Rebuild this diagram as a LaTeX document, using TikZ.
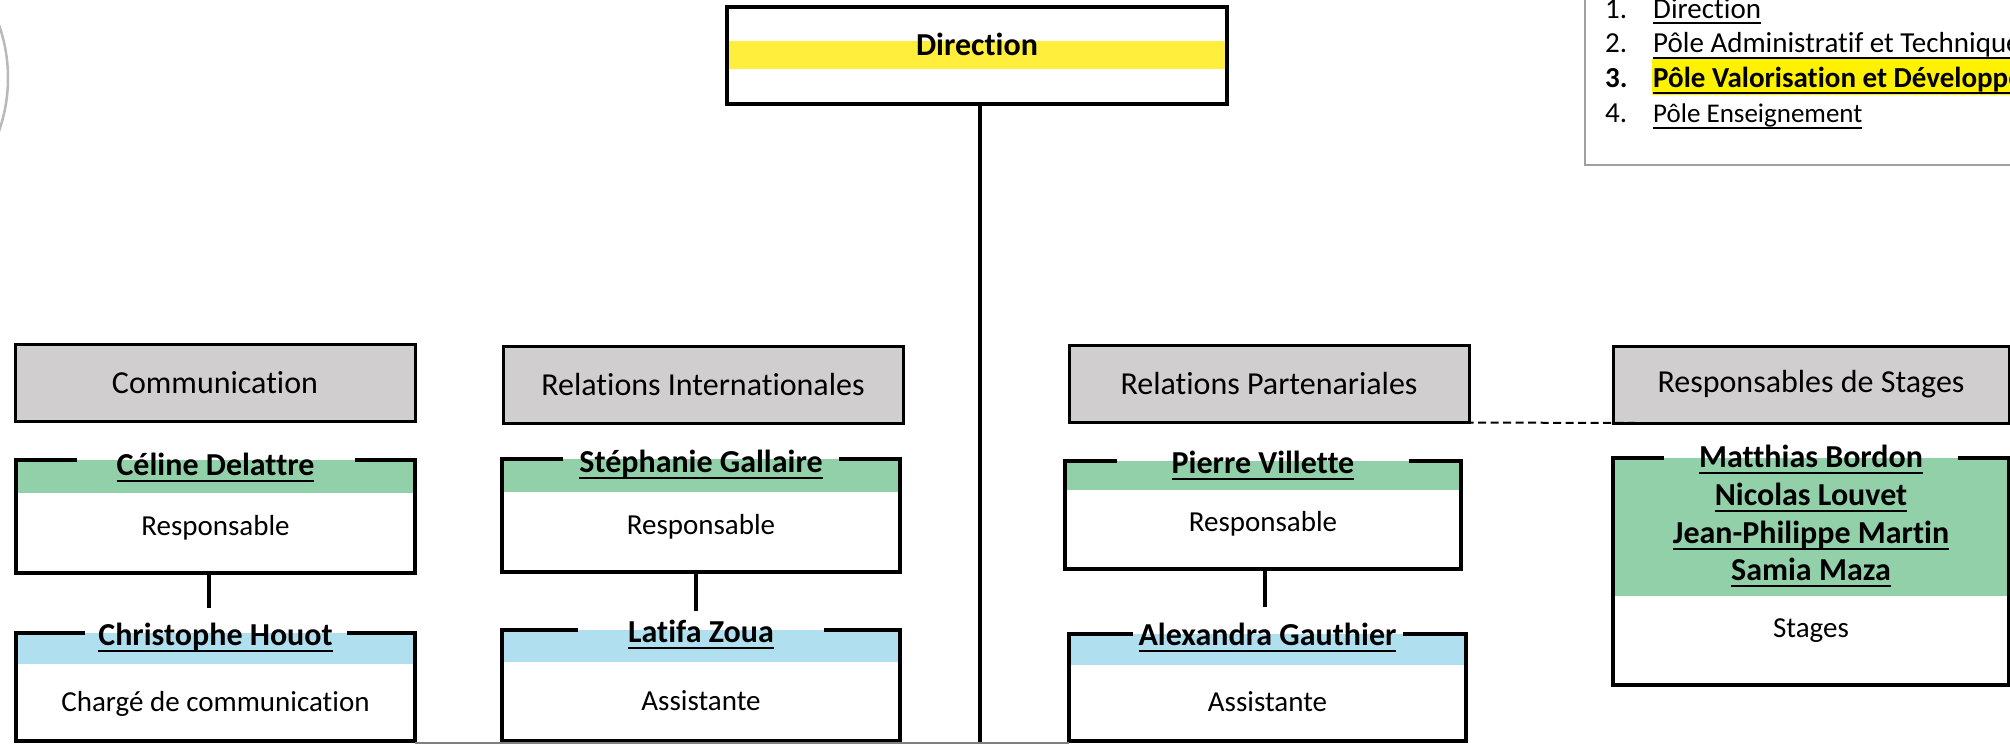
\documentclass[tikz,border=0pt]{standalone}
\usepackage{fontspec}
\setmainfont{Carlito}[Ligatures=NoCommon]
\usetikzlibrary{positioning}

\definecolor{headgray}{RGB}{208,206,206}
\definecolor{leadgreen}{RGB}{146,208,170}
\definecolor{staffblue}{RGB}{176,223,239}
\definecolor{dirband}{RGB}{255,238,60}
\definecolor{legendgray}{RGB}{160,160,160}
\definecolor{circlegray}{RGB}{185,185,185}

% underlined text, rule under the baseline
\newsavebox{\undlbox}
\newcommand{\undl}[1]{\sbox{\undlbox}{#1}\rlap{\rule[-6.5pt]{\wd\undlbox}{2pt}}\usebox{\undlbox}}

\tikzset{
  dirbox/.style={draw=black, line width=4pt, fill=white, minimum width=500pt, minimum height=97pt,
    inner sep=0pt, outer sep=0pt, text height=22pt, text depth=22pt, font=\bfseries\fontsize{32}{38}\selectfont,
    path picture={\fill[dirband] ([yshift=-34pt]path picture bounding box.north west)
      rectangle ([yshift=-62pt]path picture bounding box.north east);}},
  headbox/.style={draw=black, line width=3pt, fill=headgray, minimum width=400pt, minimum height=77pt,
    inner sep=0pt, outer sep=0pt, font=\fontsize{32}{38}\selectfont},
  band/.style={fill=#1, inner sep=0pt, outer sep=0pt, anchor=north},
  rolebox/.style={fill=white, inner sep=0pt, outer sep=0pt, text height=19pt, text depth=15pt,
    font=\fontsize{29}{35}\selectfont},
  lowrole/.style={text depth=2pt},
  namelabel/.style={inner sep=0pt, font=\bfseries\fontsize{32}{37.7}\selectfont},
  frameline/.style={line width=4pt},
  link/.style={line width=4pt},
  dashlink/.style={line width=2pt, dash pattern=on 8pt off 4.5pt},
  bottomline/.style={line width=1.2pt, draw=gray},
  legendnum/.style={anchor=base west, inner sep=0pt, font=\fontsize{29}{35}\selectfont},
  legendtext/.style={anchor=base west, inner sep=0pt, font=\fontsize{29}{35}\selectfont}
}

% frame of a person box, open at the top round the name
\newcommand{\gapframe}[3]{%
  \draw[frameline] ([xshift=-#3pt]#1.north) -| (#2.south west) -- (#2.south east)
    |- ([xshift=#3pt]#1.north);}

\begin{document}
\begin{tikzpicture}[x=1pt,y=-1pt]
    \useasboundingbox (0,0) rectangle (2010,744);
    \clip (0,0) rectangle (2010,744);

    % circle on the left edge
    \draw[circlegray, line width=2.5pt] (-152,78) circle (160);

    % direction and trunk
    \node[dirbox] (direction) at (977,55.5) {Direction};
    \coordinate (trunk-end) at (980,750);
    \draw[link] (direction.south -| trunk-end) -- (trunk-end);

    % legend
    \node[draw=legendgray, line width=2.5pt, minimum width=450pt, minimum height=200pt,
      anchor=south west, inner sep=0pt, outer sep=0pt] (legend) at (1585,165) {};
    \foreach \n/\y/\entry in {1/18/Direction, 2/52.5/Pôle Administratif et Technique}{
        \node[legendnum] (num-\n) at (1605,\y) {\n.};
        \node[legendtext] (item-\n) at (1653,\y) {\undl{\entry}};
    }
    \node[legendnum, font=\bfseries\fontsize{29}{35}\selectfont] (num-3) at (1605,87) {3.};
    \node[legendtext, fill=yellow, inner xsep=1pt, text height=28pt, text depth=8pt,
      font=\bfseries\fontsize{29}{35}\selectfont] (item-3) at (1652,87) {\undl{Pôle Valorisation et Développement}};
    \node[legendnum] (num-4) at (1605,122) {4.};
    \node[legendtext, font=\fontsize{27}{33}\selectfont] (item-4) at (1653,122) {\undl{Pôle Enseignement}};

    % services
    \node[headbox] (comm) at (215,383) {Communication};
    \node[headbox] (intl) at (703,385) {Relations Internationales};
    \node[headbox] (relpart) at (1269,384) {Relations Partenariales};
    \node[headbox, minimum width=396pt] (stages) at (1811,384.5) {Responsables de Stages};
    \draw[dashlink] ([xshift=-16pt]relpart.south east) -- ([xshift=24pt]stages.south west);

    % communication
    \node[band=leadgreen, minimum width=399pt, minimum height=33pt] (celine) at (215.5,460) {};
    \node[rolebox, minimum width=399pt, minimum height=80pt, below=0pt of celine] (celine-role) {Responsable};
    \node[namelabel, anchor=base] (celine-name) at ([yshift=-15pt]celine.north) {\undl{Céline Delattre}};
    \gapframe{celine}{celine-role}{139}

    \node[band=staffblue, minimum width=399pt, minimum height=31pt] (chris) at (215.5,633) {};
    \node[rolebox, lowrole, minimum width=399pt, minimum height=77pt, below=0pt of chris] (chris-role) {Chargé de communication};
    \node[namelabel, anchor=base] (chris-name) at ([yshift=-12pt]chris.north) {\undl{Christophe Houot}};
    \gapframe{chris}{chris-role}{131}
    \draw[link] ([xshift=-7pt]celine-role.south) -- ([xshift=-7pt,yshift=25pt]chris.north);

    % international relations
    \node[band=leadgreen, minimum width=398pt, minimum height=33pt] (steph) at (701,459) {};
    \node[rolebox, minimum width=398pt, minimum height=80pt, below=0pt of steph] (steph-role) {Responsable};
    \node[namelabel, anchor=base] (steph-name) at ([yshift=-13pt]steph.north) {\undl{Stéphanie Gallaire}};
    \gapframe{steph}{steph-role}{138}

    \node[band=staffblue, minimum width=398pt, minimum height=32pt] (latifa) at (701,630) {};
    \node[rolebox, lowrole, minimum width=398pt, minimum height=79pt, below=0pt of latifa] (latifa-role) {Assistante};
    \node[namelabel, anchor=base] (latifa-name) at ([yshift=-12pt]latifa.north) {\undl{Latifa Zoua}};
    \gapframe{latifa}{latifa-role}{123}
    \draw[link] ([xshift=-5pt]steph-role.south) -- ([xshift=-5pt,yshift=19pt]latifa.north);

    % partnerships
    \node[band=leadgreen, minimum width=396pt, minimum height=29pt] (pierre) at (1263,461) {};
    \node[rolebox, minimum width=396pt, minimum height=79pt, below=0pt of pierre] (pierre-role) {Responsable};
    \node[namelabel, anchor=base] (pierre-name) at ([yshift=-12pt]pierre.north) {\undl{Pierre Villette}};
    \gapframe{pierre}{pierre-role}{146}

    \node[band=staffblue, minimum width=397pt, minimum height=31pt] (alex) at (1267.5,634) {};
    \node[rolebox, lowrole, minimum width=397pt, minimum height=76pt, below=0pt of alex] (alex-role) {Assistante};
    \node[namelabel, anchor=base] (alex-name) at ([yshift=-11pt]alex.north) {\undl{Alexandra Gauthier}};
    \gapframe{alex}{alex-role}{135}
    \draw[link] ([xshift=2pt]pierre-role.south) -- ([xshift=-2.5pt,yshift=27pt]alex.north);

    % internships
    \node[band=leadgreen, minimum width=396pt, minimum height=138pt] (interns) at (1811,458) {};
    \node[rolebox, text depth=26pt, minimum width=396pt, minimum height=89pt, below=0pt of interns] (interns-role) {Stages};
    \node[namelabel, align=center, anchor=north] (interns-names) at ([yshift=13pt]interns.north)
      {\undl{Matthias Bordon}\\\undl{Nicolas Louvet}\\\undl{Jean-Philippe Martin}\\\undl{Samia Maza}};
    \gapframe{interns}{interns-role}{147}

    % lower edge
    \draw[bottomline] ([yshift=-2pt]chris-role.south east) -- ([yshift=-2pt]alex-role.south west);
\end{tikzpicture}
\end{document}
